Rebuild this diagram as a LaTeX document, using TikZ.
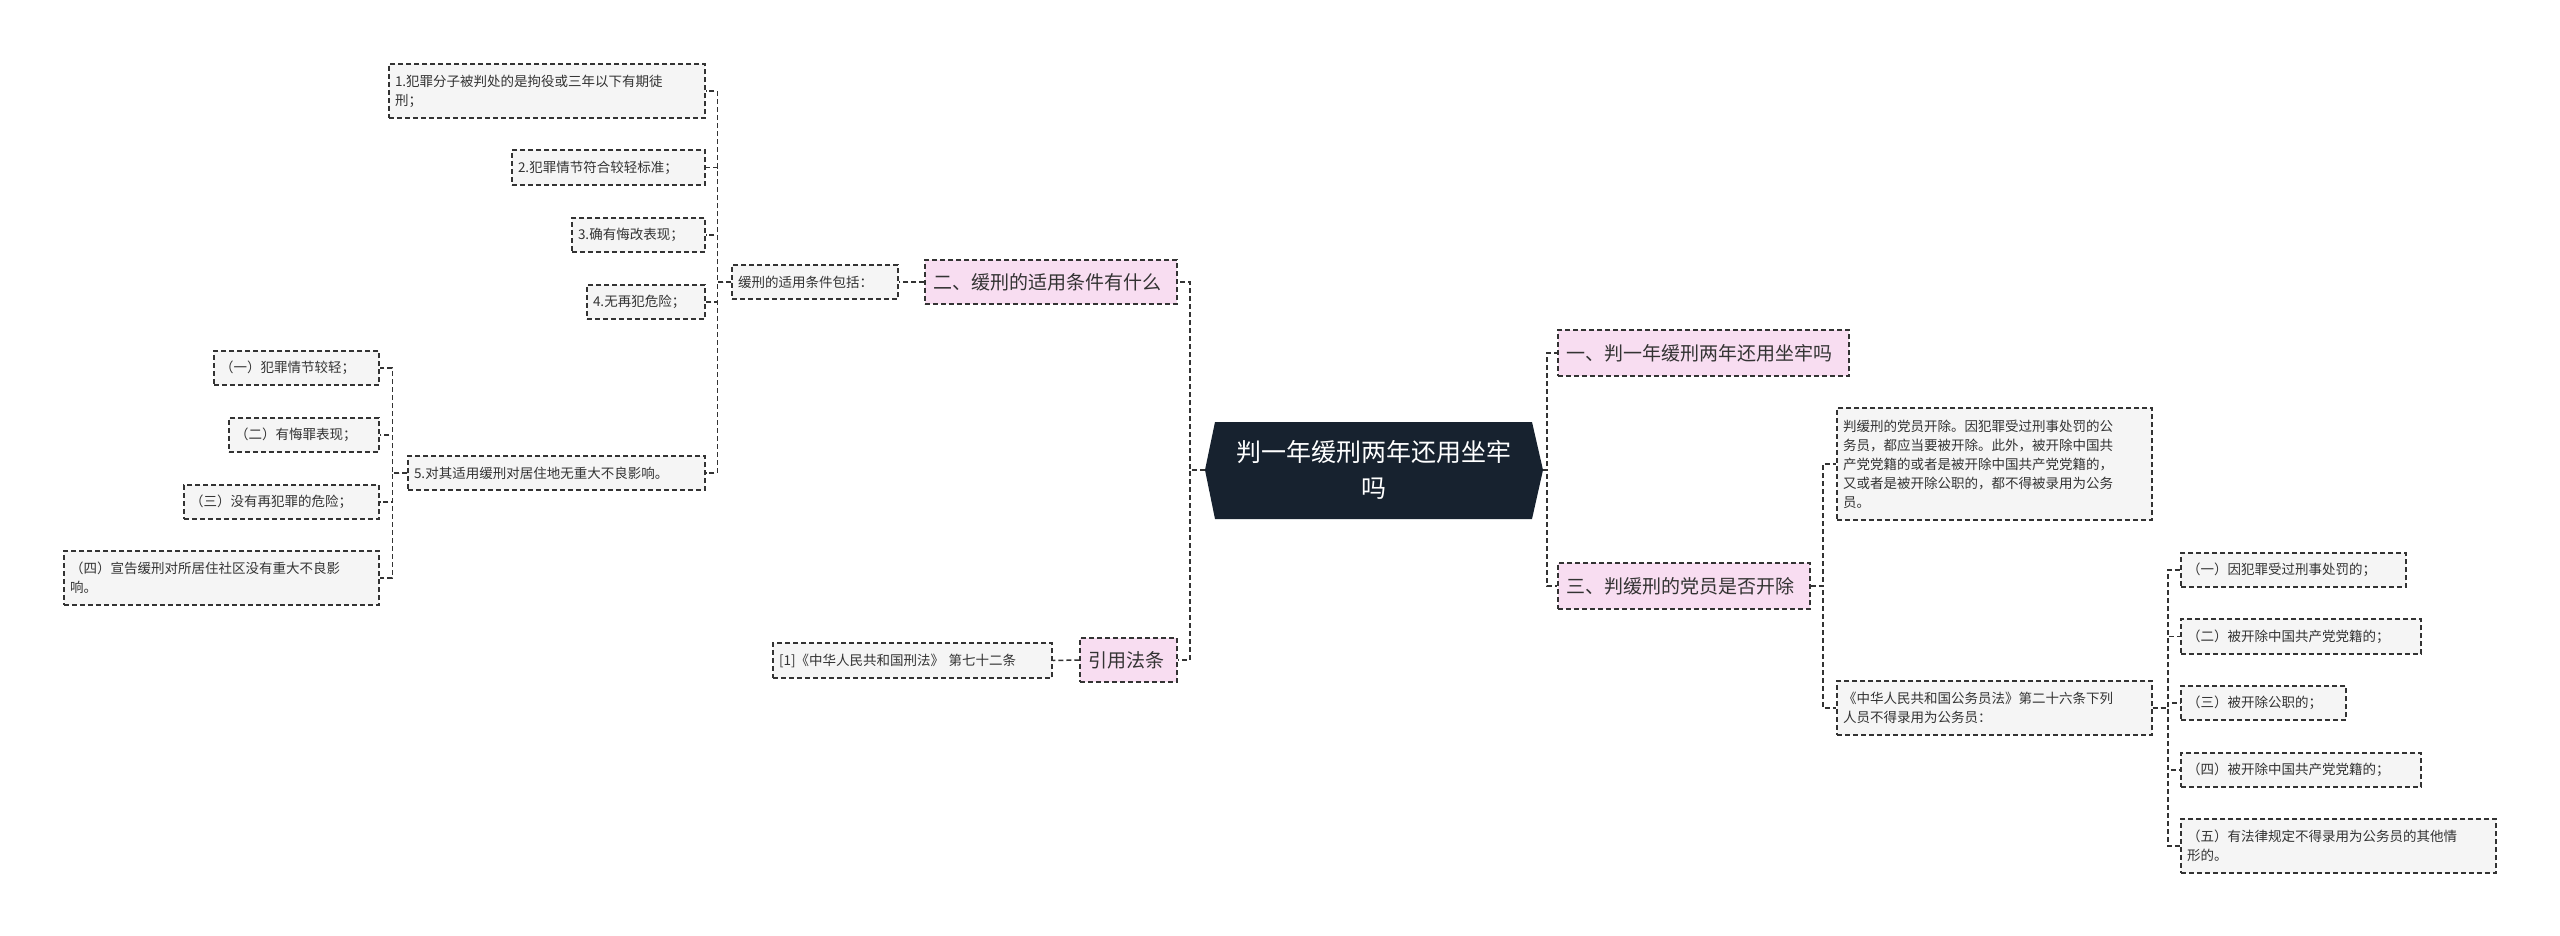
\documentclass[tikz,border=0pt]{standalone}
\usepackage{fontspec}
\setmainfont{Noto Sans CJK SC}
\usetikzlibrary{calc}
\definecolor{pinkf}{HTML}{F8DDF1}
\definecolor{grayf}{HTML}{F5F5F5}
\definecolor{hexf}{HTML}{17222F}
\definecolor{ln}{HTML}{333333}
\tikzset{
 dl/.style={draw=ln,line width=1.5pt,dash pattern=on 5pt off 3pt},
 gbox/.style={dl,fill=grayf,inner xsep=6pt,inner ysep=0pt,align=left,font=\fontsize{13.5}{19}\selectfont,text=black!80},
 pbox/.style={dl,fill=pinkf,inner xsep=8pt,inner ysep=0pt,align=left,font=\fontsize{19}{24}\selectfont,text=black!80},
 conn/.style={dl}
}
\begin{document}
\begin{tikzpicture}[x=1pt,y=-1pt]
\useasboundingbox[fill=white] (0,0) rectangle (2560,935);
% center
\fill[hexf] (1205,470) -- (1215,422) -- (1532,422) -- (1543,470) -- (1532,519) -- (1215,519) -- cycle;
\node[text=white,align=center,font=\fontsize{25}{36}\selectfont,minimum width=338pt,minimum height=97pt] (hex) at (1374,470) {判一年缓刑两年还用坐牢\\吗};
% left main
\node[pbox,minimum height=44pt,text width=236pt] (nB) at (1051,282) {二、缓刑的适用条件有什么};
\node[pbox,minimum height=44pt,text width=81pt] (nC) at (1128.5,660) {引用法条};
\node[gbox,minimum height=34pt,text width=154pt] (ncond) at (815,282) {缓刑的适用条件包括：};
\node[gbox,minimum height=35pt,text width=267pt] (ref) at (912.5,660.5) {[1]《中华人民共和国刑法》 第七十二条};
\node[gbox,minimum height=54pt,text width=304pt] (n1) at (547,91) {1.犯罪分子被判处的是拘役或三年以下有期徒\\刑；};
\node[gbox,minimum height=35pt,text width=181pt] (n2) at (608.5,167.5) {2.犯罪情节符合较轻标准；};
\node[gbox,minimum height=34pt,text width=121pt] (n3) at (638.5,235) {3.确有悔改表现；};
\node[gbox,minimum height=34pt,text width=106pt] (n4) at (646,302) {4.无再犯危险；};
\node[gbox,minimum height=34pt,text width=285pt] (n5) at (556.5,473) {5.对其适用缓刑对居住地无重大不良影响。};
\node[gbox,minimum height=34pt,text width=153pt] (s1) at (296.5,368) {（一）犯罪情节较轻；};
\node[gbox,minimum height=34pt,text width=138pt] (s2) at (304,435) {（二）有悔罪表现；};
\node[gbox,minimum height=34pt,text width=183pt] (s3) at (281.5,502) {（三）没有再犯罪的危险；};
\node[gbox,minimum height=54pt,text width=303pt] (s4) at (221.5,578) {（四）宣告缓刑对所居住社区没有重大不良影\\响。};
% right
\node[pbox,minimum height=46pt,text width=275pt] (nA) at (1703.5,353) {一、判一年缓刑两年还用坐牢吗};
\node[pbox,minimum height=46pt,text width=236pt] (nD) at (1684,586) {三、判缓刑的党员是否开除};
\node[gbox,minimum height=112pt,text width=303pt] (para) at (1994.5,464) {判缓刑的党员开除。因犯罪受过刑事处罚的公\\务员，都应当要被开除。此外，被开除中国共\\产党党籍的或者是被开除中国共产党党籍的，\\又或者是被开除公职的，都不得被录用为公务\\员。};
\node[gbox,minimum height=54pt,text width=303pt] (law) at (1994.5,708) {《中华人民共和国公务员法》第二十六条下列\\人员不得录用为公务员：};
\node[gbox,minimum height=34pt,text width=213pt] (r1) at (2293.5,570) {（一）因犯罪受过刑事处罚的；};
\node[gbox,minimum height=35pt,text width=228pt] (r2) at (2301,636.5) {（二）被开除中国共产党党籍的；};
\node[gbox,minimum height=34pt,text width=153pt] (r3) at (2263.5,703) {（三）被开除公职的；};
\node[gbox,minimum height=34pt,text width=228pt] (r4) at (2301,770) {（四）被开除中国共产党党籍的；};
\node[gbox,minimum height=54pt,text width=303pt] (r5) at (2338.5,846) {（五）有法律规定不得录用为公务员的其他情\\形的。};
% connectors
\foreach \c in {nB,nC} \draw[conn] (hex.west) -- ++(-15,0) |- (\c.east);
\foreach \c in {nA,nD} \draw[conn] (hex.east) -- ++(4,0) |- (\c.west);
\draw[conn] (nB.west) -- (ncond.east);
\draw[conn] (nC.west) -- (ref.east);
\foreach \c in {n1,n2,n3,n4,n5} \draw[conn] (ncond.west) -- ++(-14,0) |- (\c.east);
\foreach \c in {s1,s2,s3,s4} \draw[conn] (n5.west) -- ++(-15,0) |- (\c.east);
\foreach \c in {para,law} \draw[conn] (nD.east) -- ++(12,0) |- (\c.west);
\foreach \c in {r1,r2,r3,r4,r5} \draw[conn] (law.east) -- ++(15,0) |- (\c.west);
\end{tikzpicture}
\end{document}
